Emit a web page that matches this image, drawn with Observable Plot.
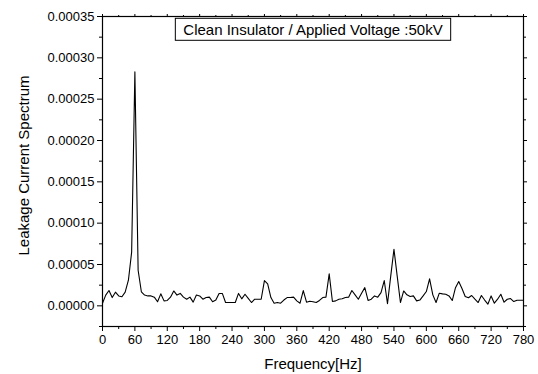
<!DOCTYPE html>
<html>
<head>
<meta charset="utf-8">
<script src="https://cdn.jsdelivr.net/npm/d3@7"></script>
<script src="https://cdn.jsdelivr.net/npm/@observablehq/plot@0.6"></script>
<style>
  html, body { margin: 0; padding: 0; background: #fff; }
  #chart svg { display: block; }
</style>
</head>
<body>
<div id="chart"></div>
<script>
// Frequency bins (Hz)
const frequency = [
  0, 6, 12, 18, 24, 30, 36, 42, 48, 54,
  60, 66, 72, 78, 84, 90, 96, 102, 108, 114,
  120, 126, 132, 138, 144, 150, 156, 162, 168, 174,
  180, 186, 192, 198, 204, 210, 216, 222, 228, 234,
  240, 246, 252, 258, 264, 270, 276, 282, 288, 294,
  300, 306, 312, 318, 324, 330, 336, 342, 348, 354,
  360, 366, 372, 378, 384, 390, 396, 402, 408, 414,
  420, 426, 432, 438, 444, 450, 456, 462, 468, 474,
  480, 486, 492, 498, 504, 510, 516, 522, 528, 534,
  540, 546, 552, 558, 564, 570, 576, 582, 588, 594,
  600, 606, 612, 618, 624, 630, 636, 642, 648, 654,
  660, 666, 672, 678, 684, 690, 696, 702, 708, 714,
  720, 726, 732, 738, 744, 750, 756, 762, 768, 774,
  780
];
// Leakage current spectrum, in micro-units (x 1e-6)
const spectrumMicro = [
  3.2, 13, 18.5, 10, 16.5, 12, 11, 16.5, 31, 65,
  283, 43, 17, 13, 12, 12, 10.5, 5, 14.5, 6,
  6.5, 10.5, 18, 13, 15, 10.5, 8, 10.5, 4.5, 13,
  12, 8, 10, 10.5, 5, 7, 15, 15, 4, 4,
  4, 4, 15, 8.5, 14, 9, 4, 8, 8, 8,
  30.6, 26.6, 10, 3.2, 4, 3.2, 7, 10, 10, 10.5,
  6, 3.2, 18.5, 4.4, 5.5, 5, 4, 6.5, 10, 10.5,
  38.7, 5.2, 6, 8, 8.5, 10, 10.5, 18.5, 13.3, 8,
  15.3, 22, 6.5, 8, 12, 10.5, 16, 30.6, 2.5, 36,
  68.5, 36, 4, 18, 13.3, 11.3, 12, 6, 7, 12,
  17.3, 32.6, 13.3, 4, 15.3, 14.5, 14, 12, 6.4, 22,
  29.4, 21, 11.3, 9.7, 12.5, 8, 4, 12.5, 7, 2,
  12, 3.2, 8, 14, 4.4, 8, 8.8, 5.2, 6.8, 6.8,
  6.8
];
const xTicks = [0, 60, 120, 180, 240, 300, 360, 420, 480, 540, 600, 660, 720, 780];
const xMinorTicks = [30, 90, 150, 210, 270, 330, 390, 450, 510, 570, 630, 690, 750];
const yTicks = [0, 0.00005, 0.0001, 0.00015, 0.0002, 0.00025, 0.0003, 0.00035];
const yMinorTicks = [-0.000025, 0.000025, 0.000075, 0.000125, 0.000175, 0.000225, 0.000275, 0.000325];
const title = "Clean Insulator / Applied Voltage :50kV";
const xLabel = "Frequency[Hz]";
const yLabel = "Leakage Current Spectrum";

const data = frequency.map((f, i) => ({f, v: spectrumMicro[i] * 1e-6}));

const font = "'Liberation Sans', Arial, Helvetica, sans-serif";

const chart = Plot.plot({
  width: 538,
  height: 374,
  marginLeft: 102,
  marginRight: 15,
  marginTop: 16,
  marginBottom: 48,
  style: {fontFamily: font, background: "#fff", color: "#000"},
  x: {domain: [0, 780], label: null},
  y: {domain: [-0.000025, 0.00035], label: null},
  marks: [
    Plot.frame({stroke: "#000", strokeWidth: 1.2}),
    Plot.axisX({ticks: xTicks, tickSize: 5, tickPadding: 3, fontSize: 13, tickFormat: d => String(d), label: null}),
    Plot.axisX({ticks: xMinorTicks, tickSize: 3, text: null, label: null}),
    Plot.axisX({anchor: "top", ticks: xTicks, tickSize: 3, text: null, label: null}),
    Plot.axisX({anchor: "top", ticks: xMinorTicks, tickSize: 2, text: null, label: null}),
    Plot.axisY({ticks: yTicks, tickSize: 5, tickPadding: 3, fontSize: 13, tickFormat: d3.format(".5f"), label: null}),
    Plot.axisY({ticks: yMinorTicks, tickSize: 3, text: null, label: null}),
    Plot.axisY({anchor: "right", ticks: yTicks, tickSize: 3, text: null, label: null}),
    Plot.axisY({anchor: "right", ticks: yMinorTicks, tickSize: 2, text: null, label: null}),
    Plot.line(data, {x: "f", y: "v", stroke: "#000", strokeWidth: 1.1}),
    Plot.text([title], {text: d => d, frameAnchor: "top", dy: 13.5, lineAnchor: "middle", fontSize: 15, fill: "#000", className: "chart-title"}),
    Plot.text([xLabel], {text: d => d, frameAnchor: "bottom", dy: 38, lineAnchor: "middle", fontSize: 15, fill: "#000"}),
    Plot.text([yLabel], {text: d => d, frameAnchor: "left", textAnchor: "middle", dx: -78, dy: -6, rotate: -90, lineAnchor: "middle", fontSize: 15, fill: "#000"})
  ]
});

document.getElementById("chart").appendChild(chart);

// Box around the title
const t = chart.querySelector(".chart-title text");
if (t) {
  const bb = t.getBBox();
  const g = t.parentNode;
  const rect = document.createElementNS("http://www.w3.org/2000/svg", "rect");
  const padX = 8, padY = 2.5;
  rect.setAttribute("x", bb.x - padX);
  rect.setAttribute("y", bb.y - padY);
  rect.setAttribute("width", bb.width + 2 * padX);
  rect.setAttribute("height", bb.height + 2 * padY);
  rect.setAttribute("fill", "#fff");
  rect.setAttribute("stroke", "#000");
  rect.setAttribute("stroke-width", "1");
  const tr = t.getAttribute("transform");
  if (tr) rect.setAttribute("transform", tr);
  g.insertBefore(rect, t);
}
</script>
</body>
</html>
